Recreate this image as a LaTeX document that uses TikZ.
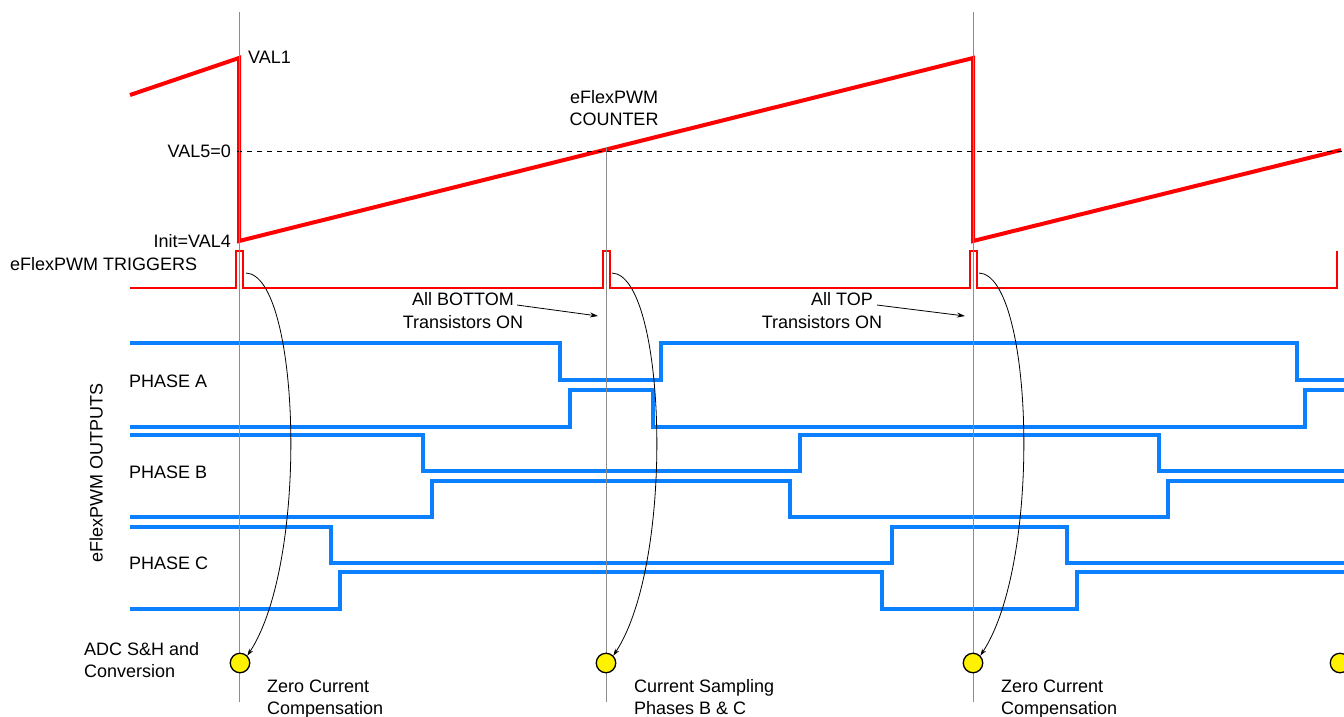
\documentclass[tikz,border=0pt]{standalone}
\usepackage{fontspec}
\setmainfont{Liberation Sans}
\usetikzlibrary{arrows.meta}
\definecolor{wblue}{RGB}{10,128,255}
\definecolor{gline}{RGB}{140,140,140}
\begin{document}
\begin{tikzpicture}[x=1pt,y=-1pt,
  lbl/.style={inner sep=0pt,font=\fontsize{18}{21}\selectfont},
  saw/.style={red,line width=4pt,line join=miter},
  trig/.style={red,line width=1.8pt,line join=miter},
  wave/.style={wblue,line width=3.6pt,line join=miter},
  vline/.style={gline,line width=1pt},
  curv/.style={black,line width=0.8pt,-{Stealth[length=7pt,width=4.5pt]}},
  note/.style={black,line width=0.8pt,-{Stealth[length=8pt,width=5pt]}},
  adc/.style={circle,draw=black,line width=1.3pt,fill=yellow,minimum size=19.5pt,inner sep=0pt}]
\useasboundingbox (0,0) rectangle (1344,716);
% sawtooth counter
\draw[saw] (130,95) -- (239,58) -- (239,241) -- (973,58) -- (973,241) -- (1341,150);
\draw[black,line width=0.8pt,dash pattern=on 5pt off 5pt] (237,151) -- (1344,151);
% triggers
\draw[trig] (130,288) -- (236,288) -- (236,251) -- (243,251) -- (243,288)
  -- (603,288) -- (603,251) -- (610,251) -- (610,288)
  -- (970,288) -- (970,251) -- (977,251) -- (977,288)
  -- (1337,288) -- (1337,251);
% phase outputs
\draw[wave] (130,343) -- (560,343) -- (560,380) -- (661,380) -- (661,343) -- (1297,343) -- (1297,380) -- (1344,380);
\draw[wave] (130,427) -- (570,427) -- (570,390) -- (653,390) -- (653,427) -- (1305,427) -- (1305,390) -- (1344,390);
\draw[wave] (130,435) -- (423,435) -- (423,471) -- (800,471) -- (800,435) -- (1159,435) -- (1159,471) -- (1344,471);
\draw[wave] (130,517) -- (432,517) -- (432,481) -- (790,481) -- (790,517) -- (1168,517) -- (1168,481) -- (1344,481);
\draw[wave] (130,527) -- (331,527) -- (331,563) -- (892,563) -- (892,527) -- (1067,527) -- (1067,563) -- (1344,563);
\draw[wave] (130,609) -- (340,609) -- (340,572) -- (882,572) -- (882,609) -- (1077,609) -- (1077,572) -- (1344,572);
% vertical reference lines
\draw[vline] (239.5,12) -- (239.5,702);
\draw[vline] (606,147) -- (606,702);
\draw[vline] (973,12) -- (973,702);
% ADC circles
\node[adc] (c1) at (240,663) {};
\node[adc] (c2) at (606,663) {};
\node[adc] (c3) at (973,663) {};
\node[adc] (c4) at (1340,663) {};
% trigger sources
\coordinate (t1) at (246,273);
\coordinate (t2) at (612,273);
\coordinate (t3) at (979,273);
\draw[curv] (t1) .. controls (300,275) and (310,560) .. (c1.north east);
\draw[curv] (t2) .. controls (666,275) and (676,560) .. (c2.north east);
\draw[curv] (t3) .. controls (1033,275) and (1043,560) .. (c3.north east);
% labels (baseline = visual centre + 6.5)
\node[lbl,anchor=base west] (val1) at (248,63.5) {VAL1};
\node[lbl,anchor=base east] (val5) at (231,157.5) {VAL5=0};
\node[lbl,anchor=base east] (init) at (231,247.5) {Init=VAL4};
\node[lbl,anchor=base west] (trg) at (10,270.5) {eFlexPWM TRIGGERS};
\node[lbl,anchor=base] (cnt1) at (614,103.5) {eFlexPWM};
\node[lbl,anchor=base] (cnt2) at (614,125.5) {COUNTER};
\node[lbl,anchor=base] (ab1) at (463,305.5) {All BOTTOM};
\node[lbl,anchor=base] (ab2) at (463,328.5) {Transistors ON};
\node[lbl,anchor=base] (at1) at (842,305.5) {All TOP};
\node[lbl,anchor=base] (at2) at (822,328.5) {Transistors ON};
\coordinate (ab3) at (598,316);
\coordinate (at3) at (965,316);
\draw[note] (517,305) -- (ab3);
\draw[note] (877,305) -- (at3);
\node[lbl,anchor=base west] (pa) at (129,387.5) {PHASE A};
\node[lbl,anchor=base west] (pb) at (129,478.5) {PHASE B};
\node[lbl,anchor=base west] (pc) at (129,569.5) {PHASE C};
\node[lbl,rotate=90,anchor=base] (outs) at (102.5,473) {eFlexPWM OUTPUTS};
\node[lbl,anchor=base west] (adc1) at (84,655.5) {ADC S\&H and};
\node[lbl,anchor=base west] (adc2) at (84,677.5) {Conversion};
\node[lbl,anchor=base west] (z1) at (267,692.5) {Zero Current};
\node[lbl,anchor=base west] (z2) at (267,714.5) {Compensation};
\node[lbl,anchor=base west] (s1) at (634,692.5) {Current Sampling};
\node[lbl,anchor=base west] (s2) at (634,714.5) {Phases B \& C};
\node[lbl,anchor=base west] (z3) at (1001,692.5) {Zero Current};
\node[lbl,anchor=base west] (z4) at (1001,714.5) {Compensation};
\end{tikzpicture}
\end{document}
